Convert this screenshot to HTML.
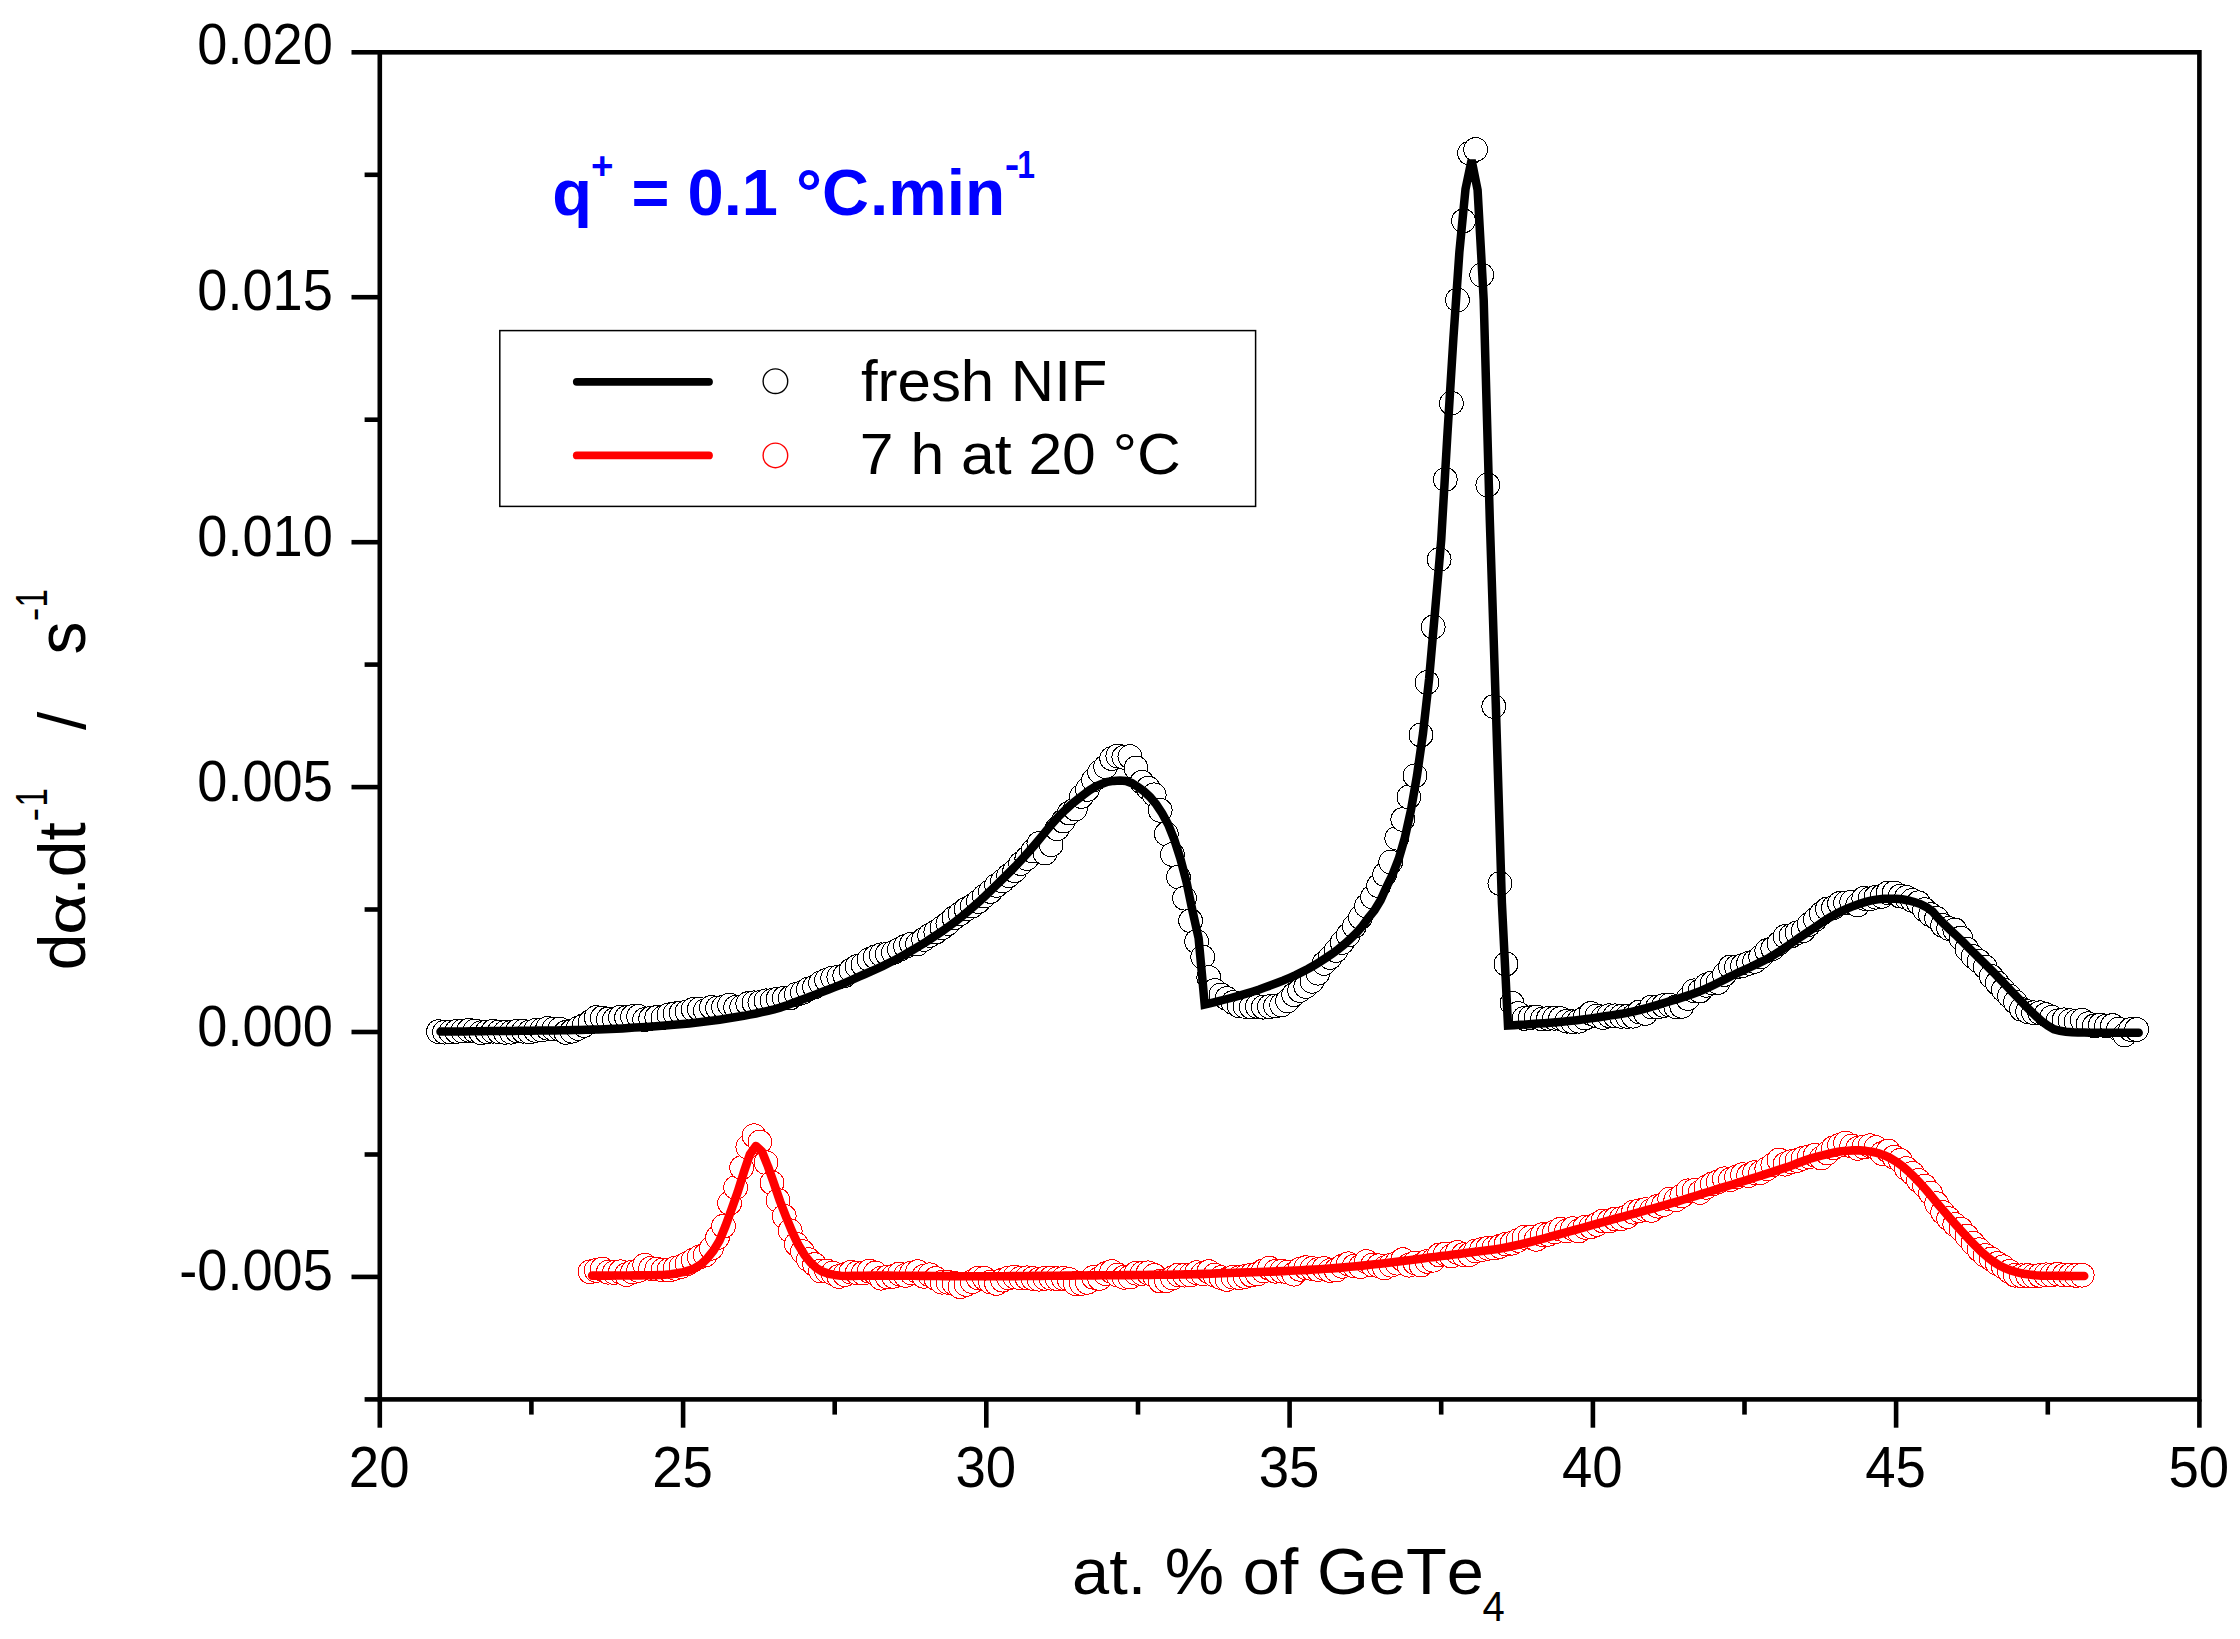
<!DOCTYPE html>
<html lang="en"><head><meta charset="utf-8"><title>dα/dt versus at. % of GeTe4</title>
<style>html,body{margin:0;padding:0;background:#fff}svg{display:block}text{font-kerning:none}</style></head>
<body>
<svg width="2240" height="1639" viewBox="0 0 2240 1639">
<rect width="2240" height="1639" fill="#fff"/>
<g fill="#fff" stroke="#000" stroke-width="1" shape-rendering="crispEdges"><circle cx="438.5" cy="1031.6" r="11.9"/><circle cx="444.5" cy="1032.2" r="11.9"/><circle cx="450.6" cy="1032.1" r="11.9"/><circle cx="456.6" cy="1031.4" r="11.9"/><circle cx="462.7" cy="1031.1" r="11.9"/><circle cx="468.8" cy="1030.3" r="11.9"/><circle cx="474.8" cy="1030.9" r="11.9"/><circle cx="480.9" cy="1032.7" r="11.9"/><circle cx="487.0" cy="1031.9" r="11.9"/><circle cx="493.0" cy="1031.2" r="11.9"/><circle cx="499.1" cy="1031.9" r="11.9"/><circle cx="505.2" cy="1032.3" r="11.9"/><circle cx="511.2" cy="1032.2" r="11.9"/><circle cx="517.3" cy="1031.0" r="11.9"/><circle cx="523.4" cy="1031.2" r="11.9"/><circle cx="529.4" cy="1032.0" r="11.9"/><circle cx="535.5" cy="1030.4" r="11.9"/><circle cx="541.6" cy="1030.1" r="11.9"/><circle cx="547.6" cy="1028.3" r="11.9"/><circle cx="553.7" cy="1028.9" r="11.9"/><circle cx="559.8" cy="1029.1" r="11.9"/><circle cx="565.8" cy="1032.4" r="11.9"/><circle cx="571.9" cy="1031.2" r="11.9"/><circle cx="578.0" cy="1028.4" r="11.9"/><circle cx="584.0" cy="1025.5" r="11.9"/><circle cx="590.1" cy="1022.0" r="11.9"/><circle cx="596.2" cy="1017.5" r="11.9"/><circle cx="602.2" cy="1017.9" r="11.9"/><circle cx="608.3" cy="1018.9" r="11.9"/><circle cx="614.3" cy="1019.7" r="11.9"/><circle cx="620.4" cy="1017.2" r="11.9"/><circle cx="626.5" cy="1017.5" r="11.9"/><circle cx="632.5" cy="1016.7" r="11.9"/><circle cx="638.6" cy="1016.4" r="11.9"/><circle cx="644.7" cy="1019.6" r="11.9"/><circle cx="650.7" cy="1018.4" r="11.9"/><circle cx="656.8" cy="1017.4" r="11.9"/><circle cx="662.9" cy="1017.6" r="11.9"/><circle cx="668.9" cy="1014.8" r="11.9"/><circle cx="675.0" cy="1013.8" r="11.9"/><circle cx="681.1" cy="1012.9" r="11.9"/><circle cx="687.1" cy="1011.8" r="11.9"/><circle cx="693.2" cy="1009.4" r="11.9"/><circle cx="699.3" cy="1009.2" r="11.9"/><circle cx="705.3" cy="1010.6" r="11.9"/><circle cx="711.4" cy="1007.3" r="11.9"/><circle cx="717.5" cy="1008.0" r="11.9"/><circle cx="723.5" cy="1007.2" r="11.9"/><circle cx="729.6" cy="1005.1" r="11.9"/><circle cx="735.7" cy="1007.3" r="11.9"/><circle cx="741.7" cy="1007.0" r="11.9"/><circle cx="747.8" cy="1003.7" r="11.9"/><circle cx="753.9" cy="1002.8" r="11.9"/><circle cx="759.9" cy="1002.5" r="11.9"/><circle cx="766.0" cy="1000.8" r="11.9"/><circle cx="772.0" cy="1000.6" r="11.9"/><circle cx="778.1" cy="998.9" r="11.9"/><circle cx="784.2" cy="998.1" r="11.9"/><circle cx="790.2" cy="997.9" r="11.9"/><circle cx="796.3" cy="994.3" r="11.9"/><circle cx="802.4" cy="992.5" r="11.9"/><circle cx="808.4" cy="989.2" r="11.9"/><circle cx="814.5" cy="987.0" r="11.9"/><circle cx="820.6" cy="982.9" r="11.9"/><circle cx="826.6" cy="980.2" r="11.9"/><circle cx="832.7" cy="978.1" r="11.9"/><circle cx="838.8" cy="977.0" r="11.9"/><circle cx="844.8" cy="975.6" r="11.9"/><circle cx="850.9" cy="970.4" r="11.9"/><circle cx="857.0" cy="966.5" r="11.9"/><circle cx="863.0" cy="964.8" r="11.9"/><circle cx="869.1" cy="959.6" r="11.9"/><circle cx="875.2" cy="957.0" r="11.9"/><circle cx="881.2" cy="954.8" r="11.9"/><circle cx="887.3" cy="954.0" r="11.9"/><circle cx="893.4" cy="952.5" r="11.9"/><circle cx="899.4" cy="949.4" r="11.9"/><circle cx="905.5" cy="946.3" r="11.9"/><circle cx="911.5" cy="944.0" r="11.9"/><circle cx="917.6" cy="943.9" r="11.9"/><circle cx="923.7" cy="939.5" r="11.9"/><circle cx="929.7" cy="935.4" r="11.9"/><circle cx="935.8" cy="932.1" r="11.9"/><circle cx="941.9" cy="927.8" r="11.9"/><circle cx="947.9" cy="923.5" r="11.9"/><circle cx="954.0" cy="917.9" r="11.9"/><circle cx="960.1" cy="913.8" r="11.9"/><circle cx="966.1" cy="909.1" r="11.9"/><circle cx="972.2" cy="906.0" r="11.9"/><circle cx="978.3" cy="901.6" r="11.9"/><circle cx="984.3" cy="896.1" r="11.9"/><circle cx="990.4" cy="891.5" r="11.9"/><circle cx="996.5" cy="885.4" r="11.9"/><circle cx="1002.5" cy="881.1" r="11.9"/><circle cx="1008.6" cy="875.7" r="11.9"/><circle cx="1014.7" cy="870.8" r="11.9"/><circle cx="1020.7" cy="863.6" r="11.9"/><circle cx="1026.8" cy="858.5" r="11.9"/><circle cx="1032.9" cy="851.0" r="11.9"/><circle cx="1038.9" cy="843.5" r="11.9"/><circle cx="1045.0" cy="853.1" r="11.9"/><circle cx="1051.1" cy="844.9" r="11.9"/><circle cx="1057.1" cy="828.9" r="11.9"/><circle cx="1063.2" cy="821.1" r="11.9"/><circle cx="1069.2" cy="813.1" r="11.9"/><circle cx="1075.3" cy="809.1" r="11.9"/><circle cx="1081.4" cy="796.5" r="11.9"/><circle cx="1087.4" cy="789.5" r="11.9"/><circle cx="1093.5" cy="780.1" r="11.9"/><circle cx="1099.6" cy="772.1" r="11.9"/><circle cx="1105.6" cy="766.7" r="11.9"/><circle cx="1111.7" cy="758.6" r="11.9"/><circle cx="1117.8" cy="756.0" r="11.9"/><circle cx="1123.8" cy="757.3" r="11.9"/><circle cx="1129.9" cy="756.6" r="11.9"/><circle cx="1136.0" cy="768.0" r="11.9"/><circle cx="1142.0" cy="782.1" r="11.9"/><circle cx="1148.1" cy="788.1" r="11.9"/><circle cx="1154.2" cy="794.8" r="11.9"/><circle cx="1160.2" cy="810.3" r="11.9"/><circle cx="1166.3" cy="833.8" r="11.9"/><circle cx="1172.4" cy="854.5" r="11.9"/><circle cx="1178.4" cy="877.0" r="11.9"/><circle cx="1184.5" cy="898.2" r="11.9"/><circle cx="1190.6" cy="920.8" r="11.9"/><circle cx="1196.6" cy="941.5" r="11.9"/><circle cx="1202.7" cy="957.0" r="11.9"/><circle cx="1208.8" cy="977.5" r="11.9"/><circle cx="1214.8" cy="990.5" r="11.9"/><circle cx="1220.9" cy="994.9" r="11.9"/><circle cx="1226.9" cy="998.5" r="11.9"/><circle cx="1233.0" cy="1002.5" r="11.9"/><circle cx="1239.1" cy="1005.8" r="11.9"/><circle cx="1245.1" cy="1006.5" r="11.9"/><circle cx="1251.2" cy="1006.9" r="11.9"/><circle cx="1257.3" cy="1006.5" r="11.9"/><circle cx="1263.3" cy="1007.2" r="11.9"/><circle cx="1269.4" cy="1006.7" r="11.9"/><circle cx="1275.5" cy="1006.1" r="11.9"/><circle cx="1281.5" cy="1005.0" r="11.9"/><circle cx="1287.6" cy="1000.9" r="11.9"/><circle cx="1293.7" cy="994.7" r="11.9"/><circle cx="1299.7" cy="990.5" r="11.9"/><circle cx="1305.8" cy="986.5" r="11.9"/><circle cx="1311.9" cy="981.3" r="11.9"/><circle cx="1317.9" cy="973.2" r="11.9"/><circle cx="1324.0" cy="963.4" r="11.9"/><circle cx="1330.1" cy="957.5" r="11.9"/><circle cx="1336.1" cy="950.5" r="11.9"/><circle cx="1342.2" cy="942.5" r="11.9"/><circle cx="1348.3" cy="935.0" r="11.9"/><circle cx="1354.3" cy="926.3" r="11.9"/><circle cx="1360.4" cy="917.4" r="11.9"/><circle cx="1366.4" cy="906.0" r="11.9"/><circle cx="1372.5" cy="897.0" r="11.9"/><circle cx="1378.6" cy="885.8" r="11.9"/><circle cx="1384.6" cy="874.5" r="11.9"/><circle cx="1390.7" cy="862.0" r="11.9"/><circle cx="1396.8" cy="838.2" r="11.9"/><circle cx="1402.8" cy="819.5" r="11.9"/><circle cx="1408.9" cy="797.0" r="11.9"/><circle cx="1415.0" cy="775.8" r="11.9"/><circle cx="1421.0" cy="735.0" r="11.9"/><circle cx="1427.1" cy="682.5" r="11.9"/><circle cx="1433.2" cy="627.0" r="11.9"/><circle cx="1439.2" cy="559.5" r="11.9"/><circle cx="1445.3" cy="479.5" r="11.9"/><circle cx="1451.4" cy="403.2" r="11.9"/><circle cx="1457.4" cy="300.0" r="11.9"/><circle cx="1463.5" cy="220.8" r="11.9"/><circle cx="1469.6" cy="153.2" r="11.9"/><circle cx="1475.6" cy="149.5" r="11.9"/><circle cx="1481.7" cy="275.0" r="11.9"/><circle cx="1487.8" cy="485.0" r="11.9"/><circle cx="1493.8" cy="706.5" r="11.9"/><circle cx="1499.9" cy="883.5" r="11.9"/><circle cx="1506.0" cy="964.0" r="11.9"/><circle cx="1512.0" cy="1003.2" r="11.9"/><circle cx="1518.1" cy="1013.5" r="11.9"/><circle cx="1524.1" cy="1018.4" r="11.9"/><circle cx="1530.2" cy="1017.7" r="11.9"/><circle cx="1536.3" cy="1016.9" r="11.9"/><circle cx="1542.3" cy="1019.1" r="11.9"/><circle cx="1548.4" cy="1018.4" r="11.9"/><circle cx="1554.5" cy="1018.3" r="11.9"/><circle cx="1560.5" cy="1018.6" r="11.9"/><circle cx="1566.6" cy="1021.2" r="11.9"/><circle cx="1572.7" cy="1021.8" r="11.9"/><circle cx="1578.7" cy="1021.2" r="11.9"/><circle cx="1584.8" cy="1018.1" r="11.9"/><circle cx="1590.9" cy="1013.4" r="11.9"/><circle cx="1596.9" cy="1015.9" r="11.9"/><circle cx="1603.0" cy="1017.6" r="11.9"/><circle cx="1609.1" cy="1015.7" r="11.9"/><circle cx="1615.1" cy="1015.8" r="11.9"/><circle cx="1621.2" cy="1016.3" r="11.9"/><circle cx="1627.3" cy="1016.4" r="11.9"/><circle cx="1633.3" cy="1016.2" r="11.9"/><circle cx="1639.4" cy="1011.9" r="11.9"/><circle cx="1645.5" cy="1013.5" r="11.9"/><circle cx="1651.5" cy="1006.9" r="11.9"/><circle cx="1657.6" cy="1007.0" r="11.9"/><circle cx="1663.7" cy="1005.5" r="11.9"/><circle cx="1669.7" cy="1005.0" r="11.9"/><circle cx="1675.8" cy="1006.8" r="11.9"/><circle cx="1681.8" cy="1006.4" r="11.9"/><circle cx="1687.9" cy="998.6" r="11.9"/><circle cx="1694.0" cy="990.8" r="11.9"/><circle cx="1700.0" cy="991.0" r="11.9"/><circle cx="1706.1" cy="985.3" r="11.9"/><circle cx="1712.2" cy="982.9" r="11.9"/><circle cx="1718.2" cy="982.4" r="11.9"/><circle cx="1724.3" cy="974.6" r="11.9"/><circle cx="1730.4" cy="966.9" r="11.9"/><circle cx="1736.4" cy="967.0" r="11.9"/><circle cx="1742.5" cy="965.7" r="11.9"/><circle cx="1748.6" cy="963.3" r="11.9"/><circle cx="1754.6" cy="961.4" r="11.9"/><circle cx="1760.7" cy="956.8" r="11.9"/><circle cx="1766.8" cy="950.7" r="11.9"/><circle cx="1772.8" cy="948.6" r="11.9"/><circle cx="1778.9" cy="943.4" r="11.9"/><circle cx="1785.0" cy="936.5" r="11.9"/><circle cx="1791.0" cy="936.0" r="11.9"/><circle cx="1797.1" cy="932.8" r="11.9"/><circle cx="1803.2" cy="930.7" r="11.9"/><circle cx="1809.2" cy="924.4" r="11.9"/><circle cx="1815.3" cy="919.4" r="11.9"/><circle cx="1821.3" cy="913.7" r="11.9"/><circle cx="1827.4" cy="908.9" r="11.9"/><circle cx="1833.5" cy="907.6" r="11.9"/><circle cx="1839.5" cy="903.5" r="11.9"/><circle cx="1845.6" cy="903.0" r="11.9"/><circle cx="1851.7" cy="902.0" r="11.9"/><circle cx="1857.7" cy="905.0" r="11.9"/><circle cx="1863.8" cy="898.3" r="11.9"/><circle cx="1869.9" cy="898.8" r="11.9"/><circle cx="1875.9" cy="897.2" r="11.9"/><circle cx="1882.0" cy="896.3" r="11.9"/><circle cx="1888.1" cy="892.9" r="11.9"/><circle cx="1894.1" cy="892.9" r="11.9"/><circle cx="1900.2" cy="896.1" r="11.9"/><circle cx="1906.3" cy="897.4" r="11.9"/><circle cx="1912.3" cy="900.3" r="11.9"/><circle cx="1918.4" cy="902.8" r="11.9"/><circle cx="1924.5" cy="909.7" r="11.9"/><circle cx="1930.5" cy="914.7" r="11.9"/><circle cx="1936.6" cy="918.3" r="11.9"/><circle cx="1942.7" cy="925.3" r="11.9"/><circle cx="1948.7" cy="928.4" r="11.9"/><circle cx="1954.8" cy="929.9" r="11.9"/><circle cx="1960.9" cy="938.1" r="11.9"/><circle cx="1966.9" cy="949.2" r="11.9"/><circle cx="1973.0" cy="956.5" r="11.9"/><circle cx="1979.0" cy="961.3" r="11.9"/><circle cx="1985.1" cy="967.0" r="11.9"/><circle cx="1991.2" cy="976.3" r="11.9"/><circle cx="1997.2" cy="983.1" r="11.9"/><circle cx="2003.3" cy="989.8" r="11.9"/><circle cx="2009.4" cy="996.0" r="11.9"/><circle cx="2015.4" cy="1002.1" r="11.9"/><circle cx="2021.5" cy="1009.3" r="11.9"/><circle cx="2027.6" cy="1011.6" r="11.9"/><circle cx="2033.6" cy="1012.8" r="11.9"/><circle cx="2039.7" cy="1012.7" r="11.9"/><circle cx="2045.8" cy="1014.6" r="11.9"/><circle cx="2051.8" cy="1017.2" r="11.9"/><circle cx="2057.9" cy="1020.8" r="11.9"/><circle cx="2064.0" cy="1019.8" r="11.9"/><circle cx="2070.0" cy="1020.7" r="11.9"/><circle cx="2076.1" cy="1021.3" r="11.9"/><circle cx="2082.2" cy="1020.2" r="11.9"/><circle cx="2088.2" cy="1023.7" r="11.9"/><circle cx="2094.3" cy="1025.9" r="11.9"/><circle cx="2100.4" cy="1024.9" r="11.9"/><circle cx="2106.4" cy="1026.0" r="11.9"/><circle cx="2112.5" cy="1025.5" r="11.9"/><circle cx="2118.6" cy="1029.0" r="11.9"/><circle cx="2124.6" cy="1035.0" r="11.9"/><circle cx="2130.7" cy="1029.5" r="11.9"/><circle cx="2136.7" cy="1029.5" r="11.9"/></g>
<polyline points="440.5,1031.6 446.5,1031.5 452.6,1031.5 458.6,1031.4 464.7,1031.4 470.8,1031.3 476.8,1031.2 482.9,1031.2 489.0,1031.1 495.0,1031.1 501.1,1031.0 507.2,1030.9 513.2,1030.9 519.3,1030.8 525.4,1030.7 531.4,1030.7 537.5,1030.6 543.6,1030.5 549.6,1030.5 555.7,1030.4 561.8,1030.3 567.8,1030.2 573.9,1030.0 580.0,1029.9 586.0,1029.8 592.1,1029.6 598.2,1029.4 604.2,1029.2 610.3,1029.0 616.3,1028.7 622.4,1028.4 628.5,1028.0 634.5,1027.6 640.6,1027.3 646.7,1026.9 652.7,1026.5 658.8,1026.1 664.9,1025.6 670.9,1025.1 677.0,1024.6 683.1,1024.0 689.1,1023.4 695.2,1022.7 701.3,1022.0 707.3,1021.3 713.4,1020.5 719.5,1019.7 725.5,1018.8 731.6,1017.8 737.7,1016.8 743.7,1015.8 749.8,1014.6 755.9,1013.5 761.9,1012.2 768.0,1010.8 774.0,1009.3 780.1,1007.6 786.2,1005.6 792.2,1003.3 798.3,1001.0 804.4,998.8 810.4,996.5 816.5,994.1 822.6,991.8 828.6,989.5 834.7,987.1 840.8,984.7 846.8,982.1 852.9,979.4 859.0,976.7 865.0,974.0 871.1,971.3 877.2,968.6 883.2,965.8 889.3,962.8 895.4,959.7 901.4,956.4 907.5,953.0 913.5,949.5 919.6,945.8 925.7,942.1 931.7,938.1 937.8,934.1 943.9,929.9 949.9,925.6 956.0,921.1 962.1,916.3 968.1,911.3 974.2,906.0 980.3,900.6 986.3,894.9 992.4,889.0 998.5,883.0 1004.5,877.1 1010.6,871.1 1016.7,864.9 1022.7,858.4 1028.8,851.6 1034.9,844.6 1040.9,837.4 1047.0,829.9 1053.1,822.6 1059.1,816.0 1065.2,810.0 1071.2,804.5 1077.3,799.6 1083.4,794.8 1089.4,790.3 1095.5,786.6 1101.6,783.9 1107.6,781.8 1113.7,780.9 1119.8,780.4 1125.8,781.0 1131.9,783.2 1138.0,787.0 1144.0,791.4 1150.1,797.0 1156.2,804.4 1162.2,813.4 1168.3,824.7 1174.4,840.0 1180.4,858.6 1186.5,881.9 1192.6,911.3 1198.6,938.1 1204.7,1004.5 1210.8,1003.1 1216.8,1001.6 1222.9,1000.0 1228.9,998.5 1235.0,996.9 1241.1,995.2 1247.1,993.4 1253.2,991.5 1259.3,989.5 1265.3,987.3 1271.4,985.1 1277.5,982.8 1283.5,980.4 1289.6,977.8 1295.7,975.1 1301.7,972.1 1307.8,968.9 1313.9,965.5 1319.9,961.8 1326.0,957.9 1332.1,953.8 1338.1,949.3 1344.2,944.4 1350.3,938.8 1356.3,933.0 1362.4,926.1 1368.4,917.9 1374.5,910.3 1380.6,900.3 1386.6,886.8 1392.7,874.3 1398.8,858.6 1404.8,838.0 1410.9,810.5 1417.0,775.6 1423.0,733.4 1429.1,678.9 1435.2,609.5 1441.2,540.2 1447.3,436.2 1453.4,338.3 1459.4,251.8 1465.5,189.1 1471.6,160.1 1477.6,190.0 1483.7,300.0 1489.8,520.0 1495.8,705.0 1501.9,903.0 1508.0,1025.5 1514.0,1025.2 1520.1,1024.8 1526.1,1024.5 1532.2,1024.0 1538.3,1023.6 1544.3,1023.2 1550.4,1022.7 1556.5,1022.2 1562.5,1021.7 1568.6,1021.1 1574.7,1020.5 1580.7,1019.8 1586.8,1018.9 1592.9,1018.1 1598.9,1017.2 1605.0,1016.3 1611.1,1015.4 1617.1,1014.5 1623.2,1013.5 1629.3,1012.3 1635.3,1011.0 1641.4,1009.5 1647.5,1007.9 1653.5,1006.1 1659.6,1004.3 1665.7,1002.5 1671.7,1000.6 1677.8,998.8 1683.8,996.9 1689.9,994.9 1696.0,992.7 1702.0,990.4 1708.1,987.7 1714.2,984.8 1720.2,981.7 1726.3,978.6 1732.4,975.5 1738.4,972.6 1744.5,969.8 1750.6,967.0 1756.6,964.1 1762.7,961.2 1768.8,958.0 1774.8,954.4 1780.9,950.5 1787.0,946.4 1793.0,942.1 1799.1,937.9 1805.2,933.9 1811.2,929.8 1817.3,925.7 1823.3,921.6 1829.4,917.7 1835.5,914.2 1841.5,911.1 1847.6,908.4 1853.7,905.9 1859.7,903.8 1865.8,901.9 1871.9,900.4 1877.9,899.4 1884.0,898.7 1890.1,898.7 1896.1,898.8 1902.2,899.3 1908.3,900.5 1914.3,902.0 1920.4,904.1 1926.5,907.1 1932.5,911.5 1938.6,918.5 1944.7,924.7 1950.7,930.3 1956.8,936.0 1962.9,941.9 1968.9,947.9 1975.0,954.0 1981.0,960.0 1987.1,966.1 1993.2,972.1 1999.2,978.3 2005.3,984.6 2011.4,991.1 2017.4,997.4 2023.5,1003.7 2029.6,1009.9 2035.6,1015.8 2041.7,1021.2 2047.8,1025.7 2053.8,1029.2 2059.9,1030.8 2066.0,1031.7 2072.0,1032.3 2078.1,1032.5 2084.2,1032.6 2090.2,1032.7 2096.3,1032.7 2102.4,1032.7 2108.4,1032.7 2114.5,1032.7 2120.6,1032.7 2126.6,1032.7 2132.7,1032.7 2138.7,1032.7" fill="none" stroke="#000" stroke-width="8.5" stroke-linecap="round" stroke-linejoin="miter" stroke-miterlimit="4"/>
<g fill="#fff" stroke="#f00" stroke-width="1" shape-rendering="crispEdges"><circle cx="590.1" cy="1271.8" r="11.9"/><circle cx="596.2" cy="1270.4" r="11.9"/><circle cx="602.2" cy="1269.1" r="11.9"/><circle cx="608.3" cy="1272.2" r="11.9"/><circle cx="614.3" cy="1272.5" r="11.9"/><circle cx="620.4" cy="1271.8" r="11.9"/><circle cx="626.5" cy="1274.6" r="11.9"/><circle cx="632.5" cy="1272.0" r="11.9"/><circle cx="638.6" cy="1270.4" r="11.9"/><circle cx="644.7" cy="1265.2" r="11.9"/><circle cx="650.7" cy="1268.4" r="11.9"/><circle cx="656.8" cy="1269.1" r="11.9"/><circle cx="662.9" cy="1270.0" r="11.9"/><circle cx="668.9" cy="1270.0" r="11.9"/><circle cx="675.0" cy="1268.3" r="11.9"/><circle cx="681.1" cy="1266.6" r="11.9"/><circle cx="687.1" cy="1263.7" r="11.9"/><circle cx="693.2" cy="1260.3" r="11.9"/><circle cx="699.3" cy="1257.1" r="11.9"/><circle cx="705.3" cy="1254.9" r="11.9"/><circle cx="711.4" cy="1248.3" r="11.9"/><circle cx="717.5" cy="1237.6" r="11.9"/><circle cx="723.5" cy="1226.2" r="11.9"/><circle cx="729.6" cy="1203.2" r="11.9"/><circle cx="735.7" cy="1187.6" r="11.9"/><circle cx="741.7" cy="1167.7" r="11.9"/><circle cx="747.8" cy="1147.0" r="11.9"/><circle cx="753.9" cy="1135.7" r="11.9"/><circle cx="759.9" cy="1142.0" r="11.9"/><circle cx="766.0" cy="1162.7" r="11.9"/><circle cx="772.0" cy="1182.9" r="11.9"/><circle cx="778.1" cy="1200.4" r="11.9"/><circle cx="784.2" cy="1216.3" r="11.9"/><circle cx="790.2" cy="1230.7" r="11.9"/><circle cx="796.3" cy="1244.2" r="11.9"/><circle cx="802.4" cy="1251.6" r="11.9"/><circle cx="808.4" cy="1259.6" r="11.9"/><circle cx="814.5" cy="1264.5" r="11.9"/><circle cx="820.6" cy="1271.0" r="11.9"/><circle cx="826.6" cy="1270.9" r="11.9"/><circle cx="832.7" cy="1273.1" r="11.9"/><circle cx="838.8" cy="1276.5" r="11.9"/><circle cx="844.8" cy="1274.7" r="11.9"/><circle cx="850.9" cy="1272.2" r="11.9"/><circle cx="857.0" cy="1272.9" r="11.9"/><circle cx="863.0" cy="1273.1" r="11.9"/><circle cx="869.1" cy="1271.1" r="11.9"/><circle cx="875.2" cy="1273.0" r="11.9"/><circle cx="881.2" cy="1278.2" r="11.9"/><circle cx="887.3" cy="1277.0" r="11.9"/><circle cx="893.4" cy="1276.3" r="11.9"/><circle cx="899.4" cy="1273.9" r="11.9"/><circle cx="905.5" cy="1275.4" r="11.9"/><circle cx="911.5" cy="1273.0" r="11.9"/><circle cx="917.6" cy="1271.7" r="11.9"/><circle cx="923.7" cy="1276.3" r="11.9"/><circle cx="929.7" cy="1274.8" r="11.9"/><circle cx="935.8" cy="1278.4" r="11.9"/><circle cx="941.9" cy="1282.2" r="11.9"/><circle cx="947.9" cy="1282.3" r="11.9"/><circle cx="954.0" cy="1283.1" r="11.9"/><circle cx="960.1" cy="1286.7" r="11.9"/><circle cx="966.1" cy="1284.4" r="11.9"/><circle cx="972.2" cy="1281.7" r="11.9"/><circle cx="978.3" cy="1278.0" r="11.9"/><circle cx="984.3" cy="1278.3" r="11.9"/><circle cx="990.4" cy="1282.0" r="11.9"/><circle cx="996.5" cy="1283.5" r="11.9"/><circle cx="1002.5" cy="1280.2" r="11.9"/><circle cx="1008.6" cy="1277.9" r="11.9"/><circle cx="1014.7" cy="1276.9" r="11.9"/><circle cx="1020.7" cy="1278.1" r="11.9"/><circle cx="1026.8" cy="1277.8" r="11.9"/><circle cx="1032.9" cy="1278.5" r="11.9"/><circle cx="1038.9" cy="1279.2" r="11.9"/><circle cx="1045.0" cy="1278.3" r="11.9"/><circle cx="1051.1" cy="1278.2" r="11.9"/><circle cx="1057.1" cy="1278.7" r="11.9"/><circle cx="1063.2" cy="1278.4" r="11.9"/><circle cx="1069.2" cy="1279.5" r="11.9"/><circle cx="1075.3" cy="1283.5" r="11.9"/><circle cx="1081.4" cy="1283.5" r="11.9"/><circle cx="1087.4" cy="1282.3" r="11.9"/><circle cx="1093.5" cy="1277.3" r="11.9"/><circle cx="1099.6" cy="1278.4" r="11.9"/><circle cx="1105.6" cy="1273.7" r="11.9"/><circle cx="1111.7" cy="1271.5" r="11.9"/><circle cx="1117.8" cy="1275.0" r="11.9"/><circle cx="1123.8" cy="1277.3" r="11.9"/><circle cx="1129.9" cy="1277.1" r="11.9"/><circle cx="1136.0" cy="1273.2" r="11.9"/><circle cx="1142.0" cy="1273.4" r="11.9"/><circle cx="1148.1" cy="1272.8" r="11.9"/><circle cx="1154.2" cy="1275.4" r="11.9"/><circle cx="1160.2" cy="1281.1" r="11.9"/><circle cx="1166.3" cy="1280.6" r="11.9"/><circle cx="1172.4" cy="1277.9" r="11.9"/><circle cx="1178.4" cy="1274.9" r="11.9"/><circle cx="1184.5" cy="1275.2" r="11.9"/><circle cx="1190.6" cy="1275.1" r="11.9"/><circle cx="1196.6" cy="1272.7" r="11.9"/><circle cx="1202.7" cy="1273.8" r="11.9"/><circle cx="1208.8" cy="1271.6" r="11.9"/><circle cx="1214.8" cy="1275.1" r="11.9"/><circle cx="1220.9" cy="1277.6" r="11.9"/><circle cx="1226.9" cy="1279.4" r="11.9"/><circle cx="1233.0" cy="1277.2" r="11.9"/><circle cx="1239.1" cy="1277.7" r="11.9"/><circle cx="1245.1" cy="1276.6" r="11.9"/><circle cx="1251.2" cy="1275.1" r="11.9"/><circle cx="1257.3" cy="1274.0" r="11.9"/><circle cx="1263.3" cy="1270.9" r="11.9"/><circle cx="1269.4" cy="1268.2" r="11.9"/><circle cx="1275.5" cy="1271.3" r="11.9"/><circle cx="1281.5" cy="1271.2" r="11.9"/><circle cx="1287.6" cy="1272.0" r="11.9"/><circle cx="1293.7" cy="1274.2" r="11.9"/><circle cx="1299.7" cy="1269.3" r="11.9"/><circle cx="1305.8" cy="1267.7" r="11.9"/><circle cx="1311.9" cy="1268.6" r="11.9"/><circle cx="1317.9" cy="1269.6" r="11.9"/><circle cx="1324.0" cy="1268.4" r="11.9"/><circle cx="1330.1" cy="1270.6" r="11.9"/><circle cx="1336.1" cy="1270.1" r="11.9"/><circle cx="1342.2" cy="1266.3" r="11.9"/><circle cx="1348.3" cy="1263.8" r="11.9"/><circle cx="1354.3" cy="1266.0" r="11.9"/><circle cx="1360.4" cy="1266.7" r="11.9"/><circle cx="1366.4" cy="1261.5" r="11.9"/><circle cx="1372.5" cy="1265.0" r="11.9"/><circle cx="1378.6" cy="1265.8" r="11.9"/><circle cx="1384.6" cy="1267.9" r="11.9"/><circle cx="1390.7" cy="1265.2" r="11.9"/><circle cx="1396.8" cy="1263.2" r="11.9"/><circle cx="1402.8" cy="1259.6" r="11.9"/><circle cx="1408.9" cy="1265.2" r="11.9"/><circle cx="1415.0" cy="1262.9" r="11.9"/><circle cx="1421.0" cy="1265.1" r="11.9"/><circle cx="1427.1" cy="1261.4" r="11.9"/><circle cx="1433.2" cy="1260.3" r="11.9"/><circle cx="1439.2" cy="1255.0" r="11.9"/><circle cx="1445.3" cy="1253.9" r="11.9"/><circle cx="1451.4" cy="1256.1" r="11.9"/><circle cx="1457.4" cy="1252.3" r="11.9"/><circle cx="1463.5" cy="1254.7" r="11.9"/><circle cx="1469.6" cy="1254.6" r="11.9"/><circle cx="1475.6" cy="1251.1" r="11.9"/><circle cx="1481.7" cy="1249.5" r="11.9"/><circle cx="1487.8" cy="1248.3" r="11.9"/><circle cx="1493.8" cy="1248.1" r="11.9"/><circle cx="1499.9" cy="1246.4" r="11.9"/><circle cx="1506.0" cy="1244.1" r="11.9"/><circle cx="1512.0" cy="1243.2" r="11.9"/><circle cx="1518.1" cy="1240.4" r="11.9"/><circle cx="1524.1" cy="1237.3" r="11.9"/><circle cx="1530.2" cy="1237.4" r="11.9"/><circle cx="1536.3" cy="1239.3" r="11.9"/><circle cx="1542.3" cy="1234.7" r="11.9"/><circle cx="1548.4" cy="1234.3" r="11.9"/><circle cx="1554.5" cy="1232.0" r="11.9"/><circle cx="1560.5" cy="1229.2" r="11.9"/><circle cx="1566.6" cy="1230.9" r="11.9"/><circle cx="1572.7" cy="1228.6" r="11.9"/><circle cx="1578.7" cy="1231.1" r="11.9"/><circle cx="1584.8" cy="1227.3" r="11.9"/><circle cx="1590.9" cy="1226.7" r="11.9"/><circle cx="1596.9" cy="1224.4" r="11.9"/><circle cx="1603.0" cy="1221.0" r="11.9"/><circle cx="1609.1" cy="1221.1" r="11.9"/><circle cx="1615.1" cy="1219.0" r="11.9"/><circle cx="1621.2" cy="1218.7" r="11.9"/><circle cx="1627.3" cy="1216.6" r="11.9"/><circle cx="1633.3" cy="1212.2" r="11.9"/><circle cx="1639.4" cy="1210.8" r="11.9"/><circle cx="1645.5" cy="1209.6" r="11.9"/><circle cx="1651.5" cy="1210.4" r="11.9"/><circle cx="1657.6" cy="1206.2" r="11.9"/><circle cx="1663.7" cy="1204.5" r="11.9"/><circle cx="1669.7" cy="1199.0" r="11.9"/><circle cx="1675.8" cy="1199.8" r="11.9"/><circle cx="1681.8" cy="1195.9" r="11.9"/><circle cx="1687.9" cy="1190.8" r="11.9"/><circle cx="1694.0" cy="1190.5" r="11.9"/><circle cx="1700.0" cy="1192.4" r="11.9"/><circle cx="1706.1" cy="1187.3" r="11.9"/><circle cx="1712.2" cy="1184.0" r="11.9"/><circle cx="1718.2" cy="1181.8" r="11.9"/><circle cx="1724.3" cy="1178.8" r="11.9"/><circle cx="1730.4" cy="1179.6" r="11.9"/><circle cx="1736.4" cy="1177.0" r="11.9"/><circle cx="1742.5" cy="1174.7" r="11.9"/><circle cx="1748.6" cy="1175.6" r="11.9"/><circle cx="1754.6" cy="1172.6" r="11.9"/><circle cx="1760.7" cy="1172.6" r="11.9"/><circle cx="1766.8" cy="1168.8" r="11.9"/><circle cx="1772.8" cy="1164.9" r="11.9"/><circle cx="1778.9" cy="1160.0" r="11.9"/><circle cx="1785.0" cy="1164.2" r="11.9"/><circle cx="1791.0" cy="1161.7" r="11.9"/><circle cx="1797.1" cy="1160.5" r="11.9"/><circle cx="1803.2" cy="1158.3" r="11.9"/><circle cx="1809.2" cy="1156.8" r="11.9"/><circle cx="1815.3" cy="1155.2" r="11.9"/><circle cx="1821.3" cy="1158.1" r="11.9"/><circle cx="1827.4" cy="1153.1" r="11.9"/><circle cx="1833.5" cy="1147.8" r="11.9"/><circle cx="1839.5" cy="1145.3" r="11.9"/><circle cx="1845.6" cy="1143.0" r="11.9"/><circle cx="1851.7" cy="1145.9" r="11.9"/><circle cx="1857.7" cy="1148.4" r="11.9"/><circle cx="1863.8" cy="1147.1" r="11.9"/><circle cx="1869.9" cy="1145.7" r="11.9"/><circle cx="1875.9" cy="1147.6" r="11.9"/><circle cx="1882.0" cy="1153.5" r="11.9"/><circle cx="1888.1" cy="1151.0" r="11.9"/><circle cx="1894.1" cy="1157.1" r="11.9"/><circle cx="1900.2" cy="1160.3" r="11.9"/><circle cx="1906.3" cy="1168.5" r="11.9"/><circle cx="1912.3" cy="1173.3" r="11.9"/><circle cx="1918.4" cy="1180.4" r="11.9"/><circle cx="1924.5" cy="1185.9" r="11.9"/><circle cx="1930.5" cy="1193.0" r="11.9"/><circle cx="1936.6" cy="1203.7" r="11.9"/><circle cx="1942.7" cy="1212.3" r="11.9"/><circle cx="1948.7" cy="1218.7" r="11.9"/><circle cx="1954.8" cy="1224.5" r="11.9"/><circle cx="1960.9" cy="1229.1" r="11.9"/><circle cx="1966.9" cy="1236.1" r="11.9"/><circle cx="1973.0" cy="1243.2" r="11.9"/><circle cx="1979.0" cy="1249.7" r="11.9"/><circle cx="1985.1" cy="1255.4" r="11.9"/><circle cx="1991.2" cy="1259.0" r="11.9"/><circle cx="1997.2" cy="1263.4" r="11.9"/><circle cx="2003.3" cy="1266.8" r="11.9"/><circle cx="2009.4" cy="1271.3" r="11.9"/><circle cx="2015.4" cy="1275.2" r="11.9"/><circle cx="2021.5" cy="1275.8" r="11.9"/><circle cx="2027.6" cy="1275.5" r="11.9"/><circle cx="2033.6" cy="1275.9" r="11.9"/><circle cx="2039.7" cy="1275.4" r="11.9"/><circle cx="2045.8" cy="1274.8" r="11.9"/><circle cx="2051.8" cy="1275.0" r="11.9"/><circle cx="2057.9" cy="1274.1" r="11.9"/><circle cx="2064.0" cy="1275.1" r="11.9"/><circle cx="2070.0" cy="1275.1" r="11.9"/><circle cx="2076.1" cy="1275.4" r="11.9"/><circle cx="2082.2" cy="1275.2" r="11.9"/></g>
<polyline points="592.1,1275.6 598.2,1275.6 604.2,1275.6 610.3,1275.6 616.3,1275.5 622.4,1275.5 628.5,1275.5 634.5,1275.4 640.6,1275.4 646.7,1275.3 652.7,1275.2 658.8,1275.0 664.9,1274.7 670.9,1274.2 677.0,1273.3 683.1,1272.1 689.1,1270.4 695.2,1267.9 701.3,1264.1 707.3,1258.3 713.4,1250.8 719.5,1240.6 725.5,1226.0 731.6,1209.1 737.7,1192.0 743.7,1172.7 749.8,1154.6 755.9,1146.0 761.9,1151.4 768.0,1166.5 774.0,1183.7 780.1,1201.5 786.2,1217.2 792.2,1231.8 798.3,1244.8 804.4,1254.8 810.4,1262.4 816.5,1268.1 822.6,1271.7 828.6,1273.7 834.7,1274.9 840.8,1275.7 846.8,1276.0 852.9,1275.9 859.0,1275.8 865.0,1275.7 871.1,1275.6 877.2,1275.6 883.2,1275.6 889.3,1275.6 895.4,1275.7 901.4,1275.7 907.5,1275.8 913.5,1275.8 919.6,1275.9 925.7,1275.9 931.7,1276.0 937.8,1276.0 943.9,1276.1 949.9,1276.1 956.0,1276.2 962.1,1276.2 968.1,1276.2 974.2,1276.2 980.3,1276.2 986.3,1276.2 992.4,1276.2 998.5,1276.2 1004.5,1276.2 1010.6,1276.1 1016.7,1276.1 1022.7,1276.0 1028.8,1276.0 1034.9,1275.9 1040.9,1275.9 1047.0,1275.8 1053.1,1275.8 1059.1,1275.7 1065.2,1275.6 1071.2,1275.6 1077.3,1275.5 1083.4,1275.5 1089.4,1275.4 1095.5,1275.4 1101.6,1275.3 1107.6,1275.3 1113.7,1275.2 1119.8,1275.2 1125.8,1275.1 1131.9,1275.1 1138.0,1275.0 1144.0,1275.0 1150.1,1274.9 1156.2,1274.8 1162.2,1274.8 1168.3,1274.7 1174.4,1274.6 1180.4,1274.5 1186.5,1274.4 1192.6,1274.2 1198.6,1274.1 1204.7,1273.9 1210.8,1273.7 1216.8,1273.4 1222.9,1273.2 1228.9,1273.0 1235.0,1272.8 1241.1,1272.6 1247.1,1272.4 1253.2,1272.3 1259.3,1272.0 1265.3,1271.8 1271.4,1271.6 1277.5,1271.4 1283.5,1271.1 1289.6,1270.8 1295.7,1270.5 1301.7,1270.2 1307.8,1269.9 1313.9,1269.5 1319.9,1269.2 1326.0,1268.8 1332.1,1268.4 1338.1,1267.9 1344.2,1267.4 1350.3,1266.8 1356.3,1266.2 1362.4,1265.6 1368.4,1265.0 1374.5,1264.3 1380.6,1263.7 1386.6,1263.0 1392.7,1262.3 1398.8,1261.5 1404.8,1260.8 1410.9,1260.0 1417.0,1259.2 1423.0,1258.4 1429.1,1257.6 1435.2,1256.9 1441.2,1256.1 1447.3,1255.4 1453.4,1254.6 1459.4,1253.9 1465.5,1253.1 1471.6,1252.3 1477.6,1251.6 1483.7,1250.8 1489.8,1250.0 1495.8,1249.2 1501.9,1248.2 1508.0,1247.0 1514.0,1245.8 1520.1,1244.4 1526.1,1243.0 1532.2,1241.5 1538.3,1239.9 1544.3,1238.4 1550.4,1236.7 1556.5,1235.0 1562.5,1233.3 1568.6,1231.6 1574.7,1230.0 1580.7,1228.3 1586.8,1226.6 1592.9,1224.9 1598.9,1223.2 1605.0,1221.6 1611.1,1219.9 1617.1,1218.2 1623.2,1216.6 1629.3,1214.9 1635.3,1213.3 1641.4,1211.6 1647.5,1209.9 1653.5,1208.3 1659.6,1206.6 1665.7,1204.9 1671.7,1203.1 1677.8,1201.3 1683.8,1199.5 1689.9,1197.6 1696.0,1195.8 1702.0,1193.9 1708.1,1192.0 1714.2,1190.1 1720.2,1188.2 1726.3,1186.3 1732.4,1184.5 1738.4,1182.6 1744.5,1180.8 1750.6,1178.9 1756.6,1177.0 1762.7,1175.1 1768.8,1173.2 1774.8,1171.2 1780.9,1169.2 1787.0,1167.2 1793.0,1165.0 1799.1,1162.6 1805.2,1160.4 1811.2,1158.3 1817.3,1156.6 1823.3,1155.1 1829.4,1153.7 1835.5,1152.3 1841.5,1151.2 1847.6,1150.7 1853.7,1150.4 1859.7,1150.4 1865.8,1150.9 1871.9,1151.7 1877.9,1153.1 1884.0,1155.2 1890.1,1158.0 1896.1,1161.6 1902.2,1165.9 1908.3,1171.2 1914.3,1177.1 1920.4,1183.5 1926.5,1190.4 1932.5,1197.5 1938.6,1204.9 1944.7,1212.0 1950.7,1219.0 1956.8,1225.9 1962.9,1232.6 1968.9,1239.2 1975.0,1245.5 1981.0,1251.6 1987.1,1256.8 1993.2,1261.5 1999.2,1265.3 2005.3,1268.3 2011.4,1270.7 2017.4,1272.4 2023.5,1273.7 2029.6,1274.6 2035.6,1275.3 2041.7,1275.7 2047.8,1275.8 2053.8,1275.8 2059.9,1275.9 2066.0,1275.9 2072.0,1276.0 2078.1,1276.0 2084.2,1276.0" fill="none" stroke="#f00" stroke-width="8.6" stroke-linecap="round" stroke-linejoin="round" stroke-miterlimit="4"/>
<g stroke="#000" stroke-width="4.6" fill="none" stroke-linecap="butt">
<rect x="379.8" y="52.3" width="1819.6" height="1347.1"/>
<line x1="379.8" y1="1399.4" x2="379.8" y2="1427.7"/>
<line x1="531.4" y1="1399.4" x2="531.4" y2="1414.6"/>
<line x1="683.1" y1="1399.4" x2="683.1" y2="1427.7"/>
<line x1="834.7" y1="1399.4" x2="834.7" y2="1414.6"/>
<line x1="986.3" y1="1399.4" x2="986.3" y2="1427.7"/>
<line x1="1138.0" y1="1399.4" x2="1138.0" y2="1414.6"/>
<line x1="1289.6" y1="1399.4" x2="1289.6" y2="1427.7"/>
<line x1="1441.2" y1="1399.4" x2="1441.2" y2="1414.6"/>
<line x1="1592.9" y1="1399.4" x2="1592.9" y2="1427.7"/>
<line x1="1744.5" y1="1399.4" x2="1744.5" y2="1414.6"/>
<line x1="1896.1" y1="1399.4" x2="1896.1" y2="1427.7"/>
<line x1="2047.8" y1="1399.4" x2="2047.8" y2="1414.6"/>
<line x1="2199.4" y1="1399.4" x2="2199.4" y2="1427.7"/>
<line x1="379.8" y1="52.3" x2="351.5" y2="52.3"/>
<line x1="379.8" y1="174.8" x2="364.6" y2="174.8"/>
<line x1="379.8" y1="297.2" x2="351.5" y2="297.2"/>
<line x1="379.8" y1="419.7" x2="364.6" y2="419.7"/>
<line x1="379.8" y1="542.2" x2="351.5" y2="542.2"/>
<line x1="379.8" y1="664.6" x2="364.6" y2="664.6"/>
<line x1="379.8" y1="787.1" x2="351.5" y2="787.1"/>
<line x1="379.8" y1="909.5" x2="364.6" y2="909.5"/>
<line x1="379.8" y1="1032.0" x2="351.5" y2="1032.0"/>
<line x1="379.8" y1="1154.5" x2="364.6" y2="1154.5"/>
<line x1="379.8" y1="1276.9" x2="351.5" y2="1276.9"/>
<line x1="379.8" y1="1399.4" x2="364.6" y2="1399.4"/>
</g>
<g font-family="'Liberation Sans', Arial, Helvetica, sans-serif" fill="#000">
<text transform="translate(332.80 64.30) scale(1.0120 1.0750)" font-size="53.5" text-anchor="end">0.020</text>
<text transform="translate(332.80 310.43) scale(1.0120 1.0750)" font-size="53.5" text-anchor="end">0.015</text>
<text transform="translate(332.80 555.75) scale(1.0120 1.0750)" font-size="53.5" text-anchor="end">0.010</text>
<text transform="translate(332.80 801.08) scale(1.0120 1.0750)" font-size="53.5" text-anchor="end">0.005</text>
<text transform="translate(332.80 1046.01) scale(1.0120 1.0750)" font-size="53.5" text-anchor="end">0.000</text>
<text transform="translate(332.80 1289.84) scale(1.0120 1.0750)" font-size="53.5" text-anchor="end">-0.005</text>
<text transform="translate(379.20 1486.80) scale(1.0200 1.0750)" font-size="53.5" text-anchor="middle">20</text>
<text transform="translate(682.47 1486.80) scale(1.0200 1.0750)" font-size="53.5" text-anchor="middle">25</text>
<text transform="translate(985.73 1486.80) scale(1.0200 1.0750)" font-size="53.5" text-anchor="middle">30</text>
<text transform="translate(1289.00 1486.80) scale(1.0200 1.0750)" font-size="53.5" text-anchor="middle">35</text>
<text transform="translate(1592.27 1486.80) scale(1.0200 1.0750)" font-size="53.5" text-anchor="middle">40</text>
<text transform="translate(1895.53 1486.80) scale(1.0200 1.0750)" font-size="53.5" text-anchor="middle">45</text>
<text transform="translate(2198.80 1486.80) scale(1.0200 1.0750)" font-size="53.5" text-anchor="middle">50</text>
<text transform="translate(1072.00 1593.70) scale(1.0227 1.0000)" font-size="65.3" text-anchor="start">at. % of GeTe</text>
<text transform="translate(1482.50 1620.60) scale(1.0000 1.0400)" font-size="40" text-anchor="start">4</text>
</g>
<g transform="translate(85,0) rotate(-90)" font-family="'Liberation Sans', Arial, Helvetica, sans-serif" fill="#000">
<text transform="translate(-970.30 0.00) scale(1.0000 1.0200)" font-size="66" text-anchor="start">d</text>
<text transform="translate(-935.00 0.00) scale(1.1000 0.8300)" font-size="66" text-anchor="start">α</text>
<text transform="translate(-895.60 0.00) scale(1.0000 1.0200)" font-size="66" text-anchor="start">.dt</text>
<text transform="translate(-821.50 -38.30) scale(1.0000 1.0000)" font-size="41" text-anchor="start">-</text>
<text transform="translate(-806.50 -38.30) scale(0.8000 1.0600)" font-size="41" text-anchor="start">1</text>
<text transform="translate(-730.00 0.00) scale(1.0000 1.0200)" font-size="66" text-anchor="start">/</text>
<text transform="translate(-654.50 0.00) scale(1.0000 1.0300)" font-size="66" text-anchor="start">s</text>
<text transform="translate(-621.20 -38.30) scale(1.0000 1.0000)" font-size="41" text-anchor="start">-</text>
<text transform="translate(-607.50 -38.30) scale(0.8000 1.0600)" font-size="41" text-anchor="start">1</text>
</g>
<g font-family="'Liberation Sans', Arial, Helvetica, sans-serif" font-weight="bold" fill="#00f">
<text transform="translate(552.30 214.80) scale(1.0000 1.0000)" font-size="65" text-anchor="start">q</text>
<text transform="translate(591.00 179.30) scale(1.0000 1.0000)" font-size="38.5" text-anchor="start">+</text>
<text transform="translate(631.60 214.80) scale(1.0000 1.0000)" font-size="65" text-anchor="start">= 0.1 °C</text>
<text transform="translate(870.00 214.80) scale(1.0120 1.0000)" font-size="65" text-anchor="start">.min</text>
<text transform="translate(1004.80 178.00) scale(1.1500 1.0000)" font-size="38" text-anchor="start">-</text>
<text transform="translate(1017.30 178.00) scale(0.8400 1.0300)" font-size="38" text-anchor="start">1</text>
</g>
<rect x="499.8" y="330.6" width="755.8" height="175.8" fill="#fff" stroke="#000" stroke-width="1.5"/>
<line x1="576.8" y1="381.8" x2="709" y2="381.8" stroke="#000" stroke-width="7.8" stroke-linecap="round"/>
<line x1="576.8" y1="455.4" x2="709" y2="455.4" stroke="#f00" stroke-width="7.8" stroke-linecap="round"/>
<circle cx="775.4" cy="381.2" r="12.3" fill="#fff" stroke="#000" stroke-width="1.4"/>
<circle cx="775.4" cy="455.4" r="12.3" fill="#fff" stroke="#f00" stroke-width="1.4"/>
<g font-family="'Liberation Sans', Arial, Helvetica, sans-serif" fill="#000">
<text transform="translate(860.90 400.80) scale(1.0340 1.0000)" font-size="58.0" text-anchor="start">fresh NIF</text>
<text transform="translate(859.80 474.40) scale(1.0460 1.0000)" font-size="58.0" text-anchor="start">7 h at 20 °C</text>
</g>
</svg>
</body></html>
